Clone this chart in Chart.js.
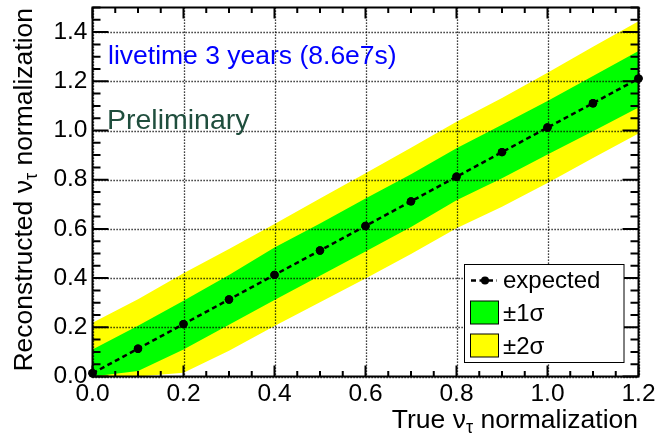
<!DOCTYPE html>
<html>
<head>
<meta charset="utf-8">
<script src="https://cdn.jsdelivr.net/npm/chart.js@4/dist/chart.umd.min.js"></script>
<style>
  html, body { margin: 0; padding: 0; background: #fff; }
  #wrap { width: 659px; height: 437px; position: relative; }
</style>
</head>
<body>
<div id="wrap"><canvas id="c" width="659" height="437"></canvas></div>
<script>
// True normalization values scanned
const trueNorm = [0.0, 0.1, 0.2, 0.3, 0.4, 0.5, 0.6, 0.7, 0.8, 0.9, 1.0, 1.1, 1.2];
// Median reconstructed normalization
const expected = [0.013, 0.113, 0.213, 0.313, 0.413, 0.512, 0.612, 0.712, 0.812, 0.912, 1.012, 1.111, 1.211];
// 68% band edges
const oneSigmaUpper = [0.110, 0.206, 0.308, 0.413, 0.524, 0.622, 0.724, 0.822, 0.928, 1.023, 1.120, 1.222, 1.323];
const oneSigmaLower = [0.000, 0.022, 0.110, 0.210, 0.311, 0.410, 0.508, 0.608, 0.716, 0.806, 0.902, 0.997, 1.093];
// 95% band edges
const twoSigmaUpper = [0.218, 0.314, 0.420, 0.518, 0.620, 0.724, 0.826, 0.930, 1.036, 1.132, 1.235, 1.340, 1.444];
const twoSigmaLower = [0.000, 0.000, 0.015, 0.105, 0.205, 0.302, 0.398, 0.498, 0.603, 0.690, 0.787, 0.888, 0.988];

// Axis ticks
const xTickValues = [0.0, 0.2, 0.4, 0.6, 0.8, 1.0, 1.2];
const xTickLabels = ['0.0', '0.2', '0.4', '0.6', '0.8', '1.0', '1.2'];
const yTickValues = [0.0, 0.2, 0.4, 0.6, 0.8, 1.0, 1.2, 1.4];
const yTickLabels = ['0.0', '0.2', '0.4', '0.6', '0.8', '1.0', '1.2', '1.4'];

const legendLabels = ['expected', '\u00b11\u03c3', '\u00b12\u03c3'];

const FONT = '"Liberation Sans", Arial, Helvetica, sans-serif';
const GREEN = '#00ff00';
const YELLOW = '#ffff00';

const pts = ys => trueNorm.map((x, i) => ({ x: x, y: ys[i] }));

// Axis titles with a subscripted tau
function measureParts(ctx, parts, size) {
  let w = 0;
  parts.forEach(p => {
    ctx.font = (p.sub ? size * 0.68 : size) + 'px ' + FONT;
    p.w = ctx.measureText(p.t).width;
    w += p.w;
  });
  return w;
}
function renderParts(ctx, parts, size, x0, y0) {
  let x = x0;
  parts.forEach(p => {
    ctx.font = (p.sub ? size * 0.68 : size) + 'px ' + FONT;
    ctx.fillText(p.t, x, y0 + (p.sub ? size * 0.2 : 0));
    x += p.w;
  });
}

const frame = {
  id: 'frame',
  beforeDraw(chart) {
    const ctx = chart.ctx;
    ctx.save();
    ctx.fillStyle = '#fff';
    ctx.fillRect(0, 0, chart.width, chart.height);
    ctx.restore();
  },
  afterDatasetDraw(chart, args) {
    if (args.index !== 1) return;
    // dotted grid over the bands
    const ctx = chart.ctx, a = chart.chartArea;
    const xs = chart.scales.x, ys = chart.scales.y;
    ctx.save();
    ctx.strokeStyle = '#000';
    ctx.lineWidth = 1.3;
    ctx.setLineDash([1.2, 1.8]);
    xTickValues.forEach(v => {
      const px = Math.round(xs.getPixelForValue(v)) + 0.5;
      ctx.beginPath(); ctx.moveTo(px, a.top); ctx.lineTo(px, a.bottom); ctx.stroke();
    });
    yTickValues.forEach(v => {
      const py = Math.round(ys.getPixelForValue(v)) + 0.5;
      ctx.beginPath(); ctx.moveTo(a.left, py); ctx.lineTo(a.right, py); ctx.stroke();
    });
    ctx.restore();
  },
  afterDatasetsDraw(chart) {
    const ctx = chart.ctx, a = chart.chartArea;
    const xs = chart.scales.x, ys = chart.scales.y;
    ctx.save();
    ctx.strokeStyle = '#000';
    ctx.setLineDash([]);

    // inward ticks on all four sides
    ctx.lineWidth = 2;
    for (let k = 0; k <= 24; k++) {
      const v = k * 0.05;
      const major = k % 4 === 0;
      const len = major ? 11 : 5.5;
      const px = xs.getPixelForValue(v);
      ctx.beginPath();
      ctx.moveTo(px, a.bottom); ctx.lineTo(px, a.bottom - len);
      ctx.moveTo(px, a.top); ctx.lineTo(px, a.top + len);
      ctx.stroke();
    }
    for (let k = 0; k <= 30; k++) {
      const v = k * 0.05;
      const major = k % 4 === 0;
      const len = major ? 16 : 8;
      const py = ys.getPixelForValue(v);
      ctx.beginPath();
      ctx.moveTo(a.left, py); ctx.lineTo(a.left + len, py);
      ctx.moveTo(a.right, py); ctx.lineTo(a.right - len, py);
      ctx.stroke();
    }
    // frame
    ctx.lineWidth = 2;
    ctx.strokeRect(a.left, a.top, a.right - a.left, a.bottom - a.top);
    ctx.restore();

    // expected markers sit above the frame
    const meta = chart.getDatasetMeta(0);
    ctx.save();
    ctx.fillStyle = '#000';
    meta.data.forEach(p => {
      ctx.beginPath(); ctx.arc(p.x, p.y, 4.2, 0, Math.PI * 2); ctx.fill();
    });
    ctx.restore();

    // axis titles
    ctx.save();
    ctx.fillStyle = '#000';
    ctx.textAlign = 'left';
    ctx.textBaseline = 'alphabetic';
    const tsize = 26.5;
    const xParts = [{ t: 'True \u03bd' }, { t: '\u03c4', sub: true }, { t: ' normalization' }];
    const xw = measureParts(ctx, xParts, tsize);
    renderParts(ctx, xParts, tsize, 638 - xw, 428);

    const yParts = [{ t: 'Reconstructed \u03bd' }, { t: '\u03c4', sub: true }, { t: ' normalization' }];
    const yw = measureParts(ctx, yParts, tsize);
    ctx.translate(32, 0);
    ctx.rotate(-Math.PI / 2);
    renderParts(ctx, yParts, tsize, -(8 + yw), 0);
    ctx.restore();

    // annotations
    ctx.save();
    ctx.textAlign = 'left';
    ctx.textBaseline = 'alphabetic';
    ctx.fillStyle = '#0000ff';
    ctx.font = '26.5px ' + FONT;
    ctx.fillText('livetime 3 years (8.6e7s)', 108, 64);
    ctx.fillStyle = '#1f4e3d';
    ctx.font = '28.5px ' + FONT;
    ctx.fillText('Preliminary', 107, 129);
    ctx.restore();

    // legend
    ctx.save();
    const lx = 464.5, ly = 264.5, lw = 159.5, lh = 98;
    ctx.fillStyle = '#fff';
    ctx.fillRect(lx, ly, lw, lh);
    ctx.strokeStyle = '#000';
    ctx.lineWidth = 1;
    ctx.strokeRect(lx, ly, lw, lh);

    const ds = chart.data.datasets;
    const rowY = [280.5, 312.5, 345.5];
    // expected: dashed line with marker
    ctx.strokeStyle = ds[0].borderColor;
    ctx.lineWidth = ds[0].borderWidth;
    ctx.setLineDash(ds[0].borderDash);
    ctx.beginPath(); ctx.moveTo(471, rowY[0]); ctx.lineTo(497, rowY[0]); ctx.stroke();
    ctx.setLineDash([]);
    ctx.fillStyle = '#000';
    ctx.beginPath(); ctx.arc(485, rowY[0], 4, 0, Math.PI * 2); ctx.fill();
    // band swatches
    [[1, rowY[1]], [3, rowY[2]]].forEach(([i, cy]) => {
      ctx.fillStyle = ds[i].backgroundColor;
      ctx.fillRect(470.5, cy - 11.5, 28, 23);
      ctx.strokeStyle = '#000';
      ctx.lineWidth = 1;
      ctx.strokeRect(470.5, cy - 11.5, 28, 23);
    });
    ctx.fillStyle = '#000';
    ctx.font = '24px ' + FONT;
    ctx.textAlign = 'left';
    ctx.textBaseline = 'alphabetic';
    ctx.fillText(legendLabels[0], 503, 288);
    ctx.fillText(legendLabels[1], 503, 321);
    ctx.fillText(legendLabels[2], 503, 354);
    ctx.restore();
  }
};

new Chart(document.getElementById('c'), {
  type: 'line',
  data: {
    datasets: [
      {
        label: legendLabels[0], data: pts(expected),
        borderColor: '#000', borderWidth: 2.5, borderDash: [5, 3.5],
        pointRadius: 4.2, pointBackgroundColor: '#000', pointBorderWidth: 0,
        fill: false, tension: 0, clip: false
      },
      {
        label: legendLabels[1], data: pts(oneSigmaUpper),
        borderWidth: 0, pointRadius: 0, backgroundColor: GREEN, borderColor: GREEN,
        fill: '+1', tension: 0
      },
      {
        label: 'lo1', data: pts(oneSigmaLower),
        borderWidth: 0, pointRadius: 0, borderColor: GREEN, fill: false, tension: 0
      },
      {
        label: legendLabels[2], data: pts(twoSigmaUpper),
        borderWidth: 0, pointRadius: 0, backgroundColor: YELLOW, borderColor: YELLOW,
        fill: '+1', tension: 0
      },
      {
        label: 'lo2', data: pts(twoSigmaLower),
        borderWidth: 0, pointRadius: 0, borderColor: YELLOW, fill: false, tension: 0
      }
    ]
  },
  options: {
    responsive: false,
    animation: false,
    events: [],
    layout: { padding: { left: 0, right: 20.5, top: 7.5, bottom: 0 } },
    plugins: { legend: { display: false }, tooltip: { enabled: false } },
    scales: {
      x: {
        type: 'linear', min: 0, max: 1.2,
        afterBuildTicks: s => { s.ticks = xTickValues.map(v => ({ value: v })); },
        afterFit: s => { s.height = 60.5; s.paddingLeft = 0; s.paddingRight = 0; },
        grid: { display: false, drawTicks: false },
        border: { display: false },
        ticks: {
          padding: 3, color: '#000', maxRotation: 0, autoSkip: false,
          font: { family: FONT, size: 24.5 },
          callback: v => { const i = xTickValues.findIndex(t => Math.abs(t - v) < 1e-6); return i >= 0 ? xTickLabels[i] : ''; }
        }
      },
      y: {
        type: 'linear', min: 0, max: 1.5,
        afterBuildTicks: s => { s.ticks = yTickValues.map(v => ({ value: v })); },
        afterFit: s => { s.width = 92.5; s.paddingTop = 0; s.paddingBottom = 0; },
        grid: { display: false, drawTicks: false },
        border: { display: false },
        ticks: {
          padding: 5, color: '#000', autoSkip: false,
          font: { family: FONT, size: 24.5 },
          callback: v => { const i = yTickValues.findIndex(t => Math.abs(t - v) < 1e-6); return i >= 0 ? yTickLabels[i] : ''; }
        }
      }
    }
  },
  plugins: [frame]
});
</script>
</body>
</html>
